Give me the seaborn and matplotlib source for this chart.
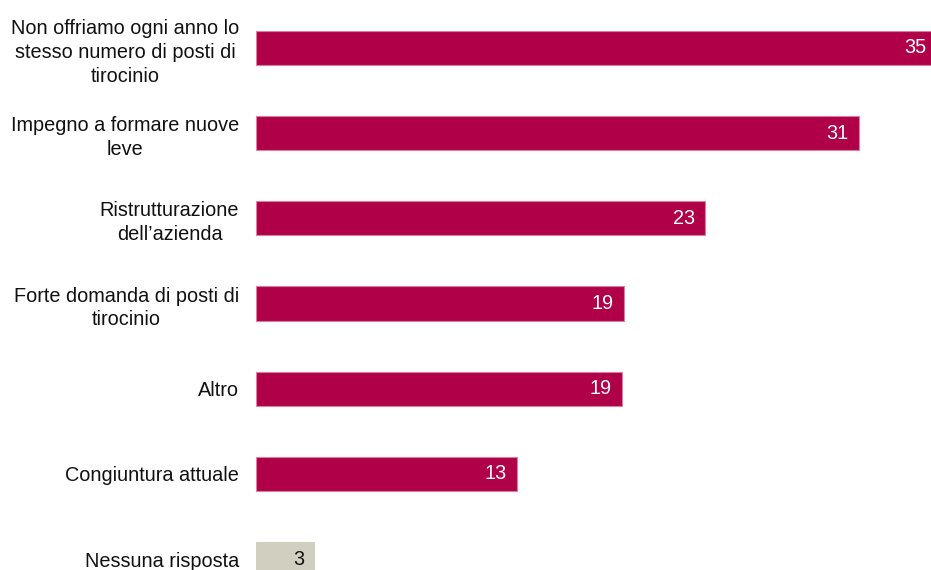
import numpy as np
import pandas as pd
import matplotlib.pyplot as plt
import seaborn as sns

# --- data ---
categories = [
    "Non offriamo ogni anno lo\nstesso numero di posti di\ntirocinio",
    "Impegno a formare nuove\nleve",
    "Ristrutturazione\ndell\u2019azienda",
    "Forte domanda di posti di\ntirocinio",
    "Altro",
    "Congiuntura attuale",
    "Nessuna risposta",
]
values = [35.0, 31.0, 23.1, 18.9, 18.8, 13.4, 3.0]
bar_colors = ["#AF0048"] * 6 + ["#D1D0C0"]
edge_colors = ["#D8809F"] * 6 + ["#D1D0C0"]
label_colors = ["white"] * 6 + ["#111111"]

df = pd.DataFrame({"cat": categories, "val": values})

sns.set_style("white")
plt.rcParams["font.family"] = ["Liberation Sans", "DejaVu Sans"]

W, H = 931, 570
fig = plt.figure(figsize=(W / 100, H / 100), dpi=100)
# axes runs past the figure edges, like the cropped original
ax = fig.add_axes([256 / W, 1 - 601.6 / H, 681 / W, 596.2 / H])

sns.barplot(data=df, y="cat", x="val", hue="cat", palette=bar_colors,
            legend=False, width=0.4, orient="h", ax=ax,
            linewidth=0.8, saturation=1)
for patch, ec in zip(ax.patches, edge_colors):
    patch.set_edgecolor(ec)

ax.set_xlim(0, 35)
ax.set_ylim(6.5, -0.5)
ax.set_xlabel("")
ax.set_ylabel("")
ax.set_xticks([])
for s in ax.spines.values():
    s.set_visible(False)

ax.tick_params(axis="y", length=0, pad=12, labelsize=14.3, labelcolor="#111111")
for lbl in ax.get_yticklabels():
    lbl.set_multialignment("center")
    lbl.set_linespacing(1.33)

# value labels inside the bar ends
for i, v in enumerate(values):
    ax.annotate(f"{v:.0f}", xy=(v, i), xytext=(-7.5, 0), textcoords="offset points",
                ha="right", va="center", fontsize=14.3, color=label_colors[i])

fig.savefig("out.png", dpi=100)
